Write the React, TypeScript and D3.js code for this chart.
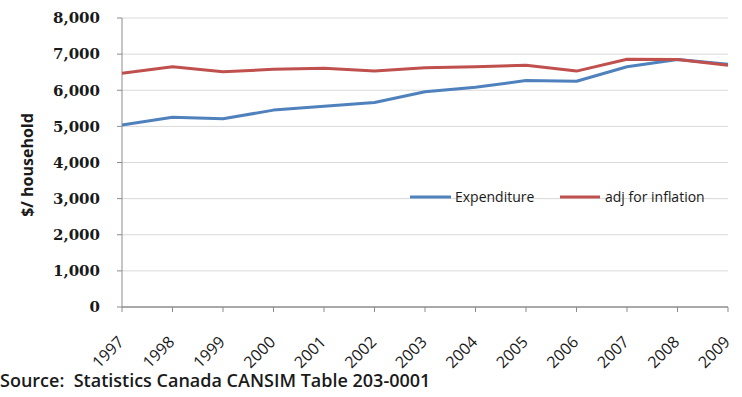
import React from "react";
import * as d3 from "d3";

const years = ["1997","1998","1999","2000","2001","2002","2003","2004","2005","2006","2007","2008","2009"];
const expenditure = [5040, 5250, 5210, 5450, 5560, 5660, 5960, 6080, 6270, 6250, 6650, 6850, 6720];
const adjInflation = [6470, 6650, 6510, 6580, 6610, 6530, 6620, 6650, 6690, 6530, 6860, 6850, 6690];
const yTicks = [0, 1000, 2000, 3000, 4000, 5000, 6000, 7000, 8000];
const seriesNames = ["Expenditure", "adj for inflation"];
const colors = ["#4F81BD", "#C0504D"];

export default function App() {
  const W = 742, H = 397;
  const x = d3.scalePoint<string>().domain(years).range([122, 728]);
  const y = d3.scaleLinear().domain([0, 8000]).range([307, 18]);
  const line = d3.line<number>().x((_, i) => x(years[i])!).y(d => y(d));
  const fmt = d3.format(",");
  const series = [expenditure, adjInflation];
  const sans = "'Open Sans', sans-serif";
  return (
    <svg width={W} height={H} style={{ position: "absolute", left: 0, top: 0, background: "#fff" }}>
      {yTicks.map(t => (
        <g key={t}>
          {t > 0 && <line x1={122} x2={728} y1={y(t)} y2={y(t)} stroke="#d9d9d9" strokeWidth={1} />}
          <line x1={117} x2={122} y1={y(t)} y2={y(t)} stroke="#8c8c8c" />
          <text x={100} y={y(t)} dy="0.35em" textAnchor="end" fontFamily="'DejaVu Serif', serif" fontWeight="bold" fontSize={15} fill="#1a1a1a">{fmt(t)}</text>
        </g>
      ))}
      <line x1={122} x2={122} y1={18} y2={307} stroke="#8c8c8c" />
      <line x1={122} x2={728} y1={307} y2={307} stroke="#8c8c8c" strokeWidth={1.5} />
      {years.map(yr => (
        <g key={yr}>
          <line x1={x(yr)} x2={x(yr)} y1={307} y2={312} stroke="#8c8c8c" />
          <text transform={`translate(${x(yr)! + 3},${343}) rotate(-45)`} textAnchor="end" fontFamily={sans} fontSize={16} fill="#1a1a1a">{yr}</text>
        </g>
      ))}
      {series.map((s, i) => (
        <path key={i} d={line(s)!} fill="none" stroke={colors[i]} strokeWidth={3} strokeLinejoin="round" />
      ))}
      <g>
        <line x1={410} x2={451} y1={197} y2={197} stroke={colors[0]} strokeWidth={3} />
        <text x={455} y={197} dy="0.35em" fontFamily={sans} fontSize={14} fill="#1a1a1a">{seriesNames[0]}</text>
        <line x1={560} x2={600} y1={197} y2={197} stroke={colors[1]} strokeWidth={3} />
        <text x={605} y={197} dy="0.35em" fontFamily={sans} fontSize={14} fill="#1a1a1a">{seriesNames[1]}</text>
      </g>
      <text transform="translate(33,165) rotate(-90)" textAnchor="middle" fontFamily={sans} fontWeight="bold" fontSize={16} fill="#1a1a1a">$/ household</text>
      <text x={0} y={387} fontFamily={sans} fontWeight={600} fontSize={18} fill="#1a1a1a" style={{ whiteSpace: "pre" }}>{"Source:  Statistics Canada CANSIM Table 203-0001"}</text>
    </svg>
  );
}
